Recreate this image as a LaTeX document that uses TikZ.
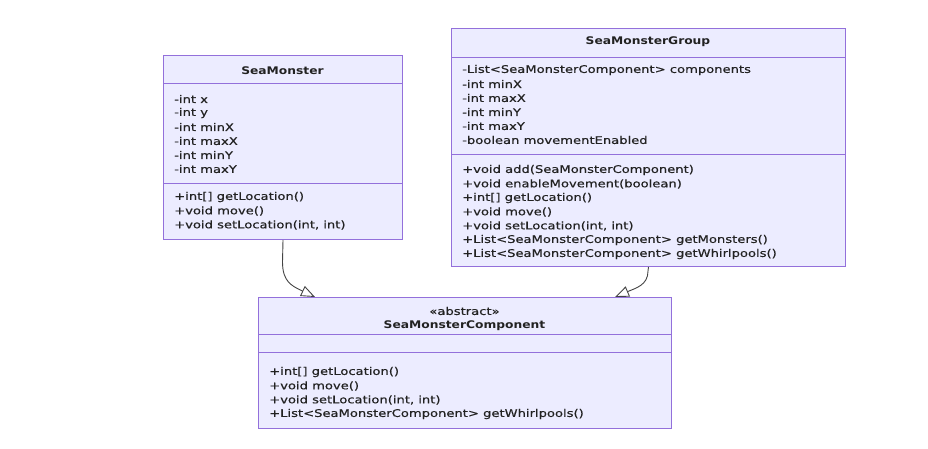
\documentclass[tikz,border=0pt]{standalone}
\usepackage{fontspec}
\setmainfont{DejaVu Sans}
\newfontfamily\umlfont[FakeStretch=1.25, FakeBold=0.5]{DejaVu Sans}
\newfontfamily\umltitlefont[FakeStretch=1.17]{DejaVu Sans Bold}
\usetikzlibrary{arrows.meta,calc}
\definecolor{boxfill}{HTML}{ECECFF}
\definecolor{boxline}{HTML}{9370DB}
\definecolor{edge}{HTML}{444444}
\definecolor{txt}{HTML}{222222}
\tikzset{
  umlbox/.style={draw=boxline, fill=boxfill, line width=1pt, inner sep=0pt, anchor=north west},
  divider/.style={draw=boxline, line width=1pt},
  member/.style={anchor=west, inner sep=0pt, text=txt, font=\umlfont\fontsize{10.5}{12}\selectfont},
  title/.style={inner sep=0pt, text=txt, font=\umltitlefont\fontsize{10.5}{12}\selectfont},
  inherit/.style={draw=edge, line width=0.9pt, -{Triangle[open, length=14pt, width=11pt, fill=white]}}
}
\begin{document}
\begin{tikzpicture}[x=1pt, y=-1pt]
\useasboundingbox[fill=white] (0,0) rectangle (928,448);
% SeaMonster
\node[umlbox, minimum width=239pt, minimum height=184pt] (sm) at (163,55) {};
\draw[divider] (163,83) -- (402,83);
\draw[divider] (163,183) -- (402,183);
\node[title] (smt) at (282.5,71) {SeaMonster};
\node[member] (sm1) at (174,99) {-int x};
\node[member] (sm2) at (174,113) {-int y};
\node[member] (sm3) at (174,127) {-int minX};
\node[member] (sm4) at (174,141) {-int maxX};
\node[member] (sm5) at (174,155) {-int minY};
\node[member] (sm6) at (174,169) {-int maxY};
\node[member] (sm7) at (174,197) {+int[] getLocation()};
\node[member] (sm8) at (174,211) {+void move()};
\node[member] (sm9) at (174,225) {+void setLocation(int, int)};
% SeaMonsterGroup
\node[umlbox, minimum width=394pt, minimum height=238pt] (smg) at (451,28) {};
\draw[divider] (451,57) -- (845,57);
\draw[divider] (451,154) -- (845,154);
\node[title] (smgt) at (648,42) {SeaMonsterGroup};
\node[member] (g1) at (462,70) {-List<SeaMonsterComponent> components};
\node[member] (g2) at (462,84) {-int minX};
\node[member] (g3) at (462,98) {-int maxX};
\node[member] (g4) at (462,112) {-int minY};
\node[member] (g5) at (462,126) {-int maxY};
\node[member] (g6) at (462,140) {-boolean movementEnabled};
\node[member] (g7) at (462,170) {+void add(SeaMonsterComponent)};
\node[member] (g8) at (462,184) {+void enableMovement(boolean)};
\node[member] (g9) at (462,198) {+int[] getLocation()};
\node[member] (g10) at (462,212) {+void move()};
\node[member] (g11) at (462,226) {+void setLocation(int, int)};
\node[member] (g12) at (462,240) {+List<SeaMonsterComponent> getMonsters()};
\node[member] (g13) at (462,254) {+List<SeaMonsterComponent> getWhirlpools()};
% SeaMonsterComponent
\node[umlbox, minimum width=413pt, minimum height=131pt] (smc) at (258,297) {};
\draw[divider] (258,334) -- (671,334);
\draw[divider] (258,352) -- (671,352);
\node[inner sep=0pt, text=txt, font=\umlfont\fontsize{10.5}{12}\selectfont] (smcs) at (464.5,311) {«abstract»};
\node[title] (smct) at (464.5,326) {SeaMonsterComponent};
\node[member] (c1) at (269,372) {+int[] getLocation()};
\node[member] (c2) at (269,386) {+void move()};
\node[member] (c3) at (269,400) {+void setLocation(int, int)};
\node[member] (c4) at (269,414) {+List<SeaMonsterComponent> getWhirlpools()};
% connectors
\coordinate (tipA) at (315,297);
\coordinate (tipB) at (615,297);
\draw[inherit] (sm.south) -- (282.5,262) .. controls (282.5,282) and (292,286) .. (tipA);
\draw[inherit] (smg.south) -- (648,271) .. controls (648,285) and (636,288) .. (tipB);
\end{tikzpicture}
\end{document}
